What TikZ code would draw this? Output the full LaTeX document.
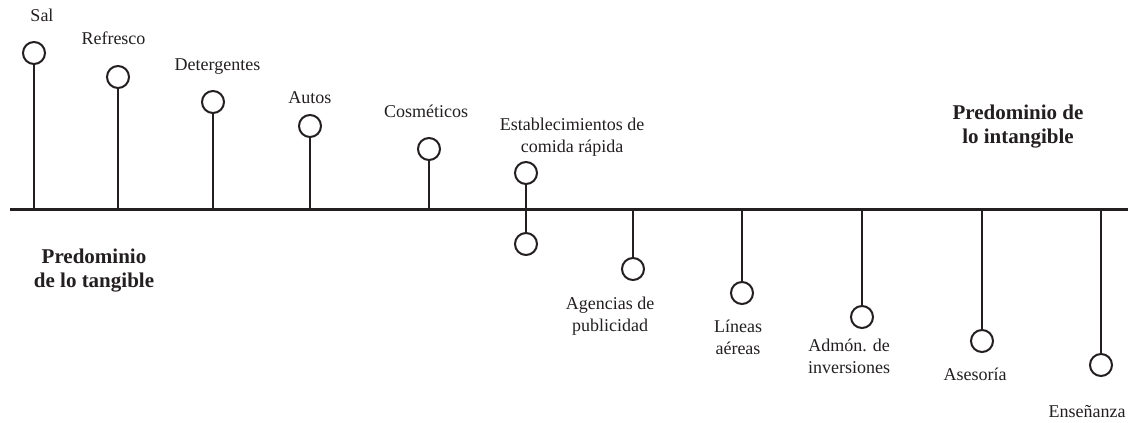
\documentclass[tikz,border=0pt]{standalone}
\usepackage{fontspec}
\setmainfont{Liberation Serif}
\definecolor{ink}{RGB}{35,31,32}
\begin{document}
\begin{tikzpicture}[x=1pt,y=-1pt,
  every node/.style={text=ink},
  item/.style={draw=ink,line width=2pt,circle,minimum size=22pt,inner sep=0pt},
  stem/.style={draw=ink,line width=2pt},
  axisline/.style={draw=ink,line width=2.4pt},
  lbl/.style={font=\fontsize{18}{21.5}\selectfont,align=center,anchor=base,inner sep=0pt},
  side/.style={font=\fontsize{21}{24}\selectfont\bfseries,align=center,anchor=base,inner sep=0pt}]
\useasboundingbox (0,0) rectangle (1128,423);

% axis between tangible and intangible
\coordinate (axL) at (10,209.5);
\coordinate (axR) at (1128,209.5);
\draw[axisline] (axL) -- (axR);

% goods above the axis
\coordinate (aSal) at (34,209.5);
\coordinate (aRef) at (118,209.5);
\coordinate (aDet) at (213,209.5);
\coordinate (aAut) at (310,209.5);
\coordinate (aCos) at (429,209.5);
% services below the axis
\coordinate (aAge) at (633,209.5);
\coordinate (aLin) at (742,209.5);
\coordinate (aAdm) at (862,209.5);
\coordinate (aAse) at (982,209.5);
\coordinate (aEns) at (1101,209.5);

\node[item] (cSal) at (34,53) {};
\node[item] (cRef) at (118,77) {};
\node[item] (cDet) at (213,102) {};
\node[item] (cAut) at (310,126) {};
\node[item] (cCos) at (429,149) {};
\node[item] (cEstU) at (526,173) {};
\node[item] (cEstD) at (526,244) {};
\node[item] (cAge) at (633,269) {};
\node[item] (cLin) at (742,293) {};
\node[item] (cAdm) at (862,317) {};
\node[item] (cAse) at (982,341) {};
\node[item] (cEns) at (1101,365) {};

\draw[stem] (aSal) -- (cSal);
\draw[stem] (aRef) -- (cRef);
\draw[stem] (aDet) -- (cDet);
\draw[stem] (aAut) -- (cAut);
\draw[stem] (aCos) -- (cCos);
\draw[stem] (cEstU) -- (cEstD);
\draw[stem] (aAge) -- (cAge);
\draw[stem] (aLin) -- (cLin);
\draw[stem] (aAdm) -- (cAdm);
\draw[stem] (aAse) -- (cAse);
\draw[stem] (aEns) -- (cEns);

% labels (base anchor sits on the last line)
\node[lbl] (tSal) at (42,21) {Sal};
\node[lbl] (tRef) at (113.5,44) {Refresco};
\node[lbl] (tDet) at (217.5,70) {Detergentes};
\node[lbl] (tAut) at (310,103) {Autos};
\node[lbl] (tCos) at (426,117) {Cosméticos};
\node[lbl] (tEst) at (572,152) {Establecimientos de\\comida rápida};
\node[lbl] (tAge) at (610,331) {Agencias de\\publicidad};
\node[lbl] (tLin) at (738,354) {Líneas\\aéreas};
\node[lbl] (tAdm) at (849,373) {Admón. de\\inversiones};
\node[lbl] (tAse) at (975,380) {Asesoría};
\node[lbl] (tEns) at (1087,417) {Enseñanza};

\node[side] (tTang) at (94,287) {Predominio\\de lo tangible};
\node[side] (tIntang) at (1018,143) {Predominio de\\lo intangible};
\end{tikzpicture}
\end{document}
